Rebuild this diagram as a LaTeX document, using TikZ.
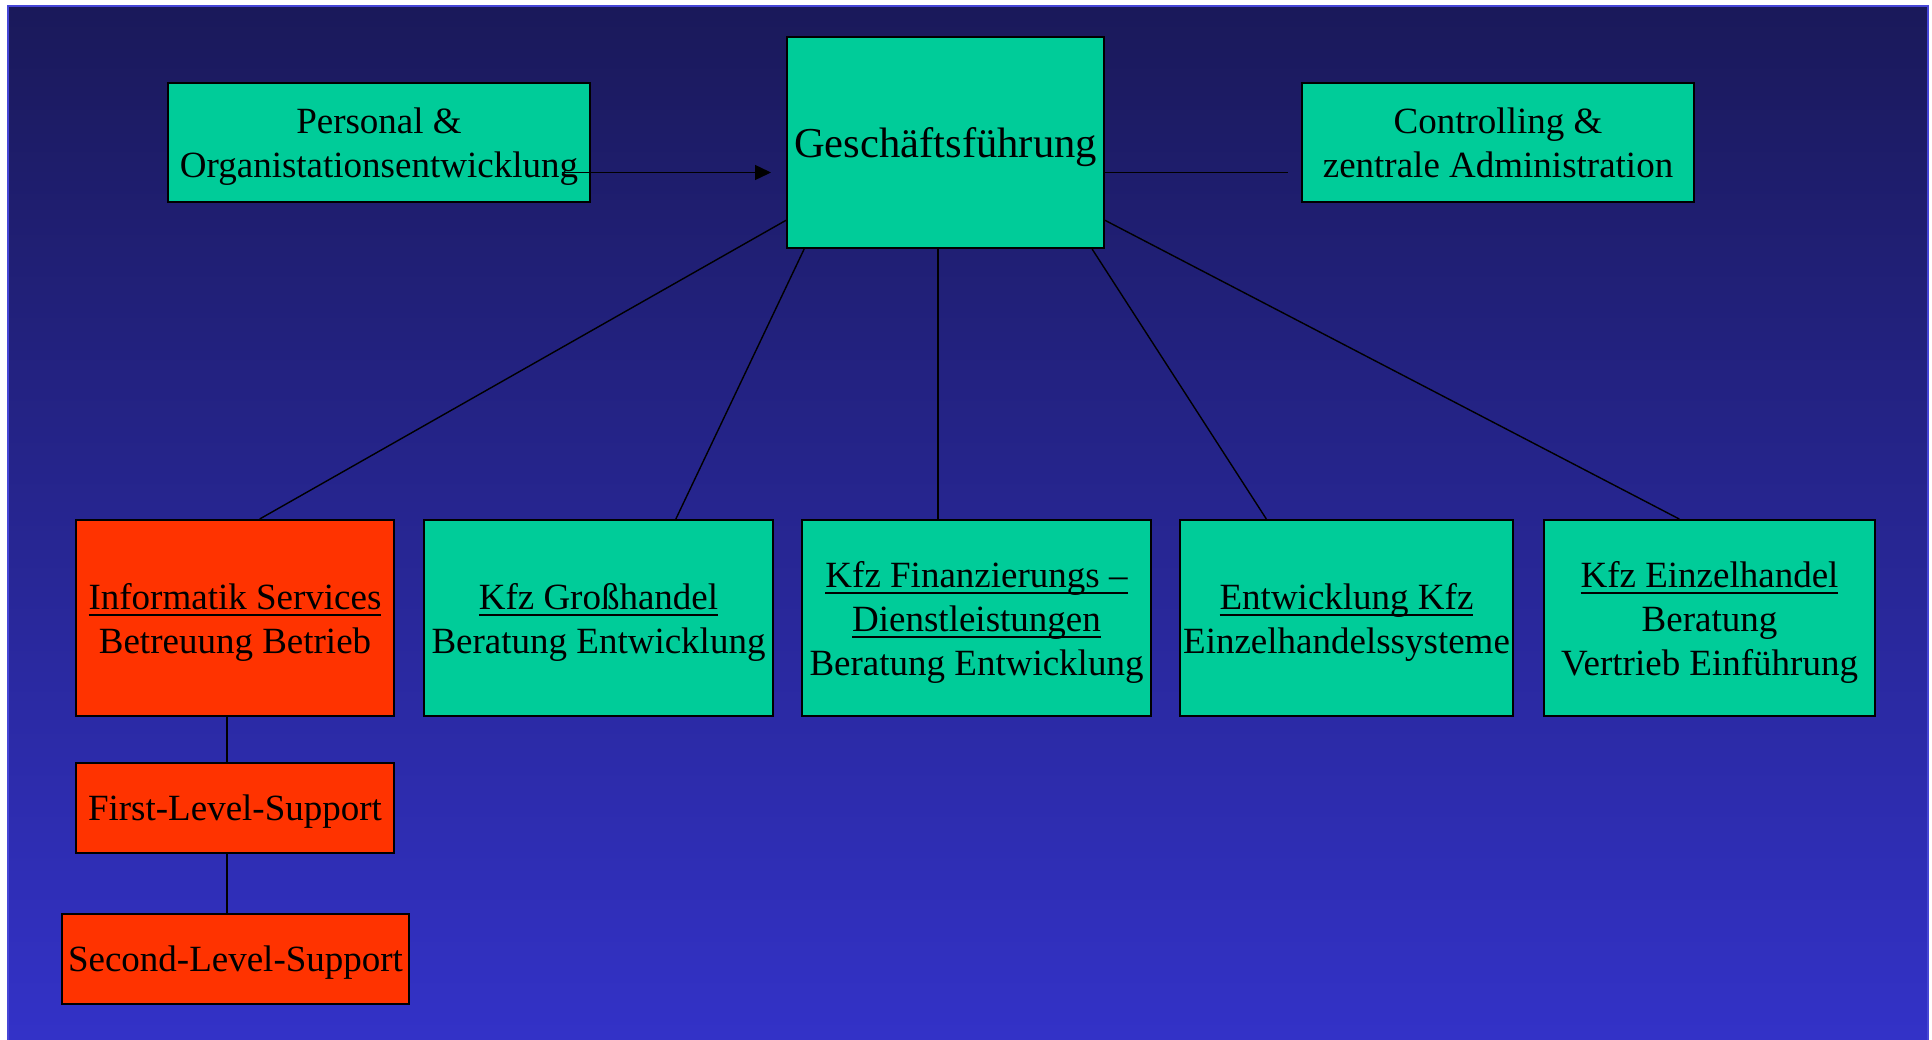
\documentclass[tikz,border=0pt]{standalone}
\usepackage{fontspec}
\setmainfont{Liberation Serif}
\usetikzlibrary{arrows.meta}

\definecolor{bgtop}{RGB}{26,25,90}
\definecolor{bgbottom}{RGB}{51,50,200}
\definecolor{bgline}{RGB}{70,70,215}
\definecolor{unitgreen}{RGB}{0,204,153}
\definecolor{unitred}{RGB}{255,51,0}

\tikzset{every picture/.style={line width=0.7pt}}
\tikzset{
  unit/.style={draw=black, line width=1pt, fill=unitgreen, align=center, inner sep=0pt,
    text depth=0pt, font=\fontsize{18.5}{22}\selectfont},
  itunit/.style={unit, fill=unitred},
  link/.style={draw=black, line width=0.7pt},
  arr/.style={link, -{Triangle[length=8pt,width=7.5pt]}}
}
\newsavebox{\ulbox}
\newcommand{\uh}[1]{\sbox{\ulbox}{#1}\rlap{\rule[-3.4pt]{\wd\ulbox}{0.9pt}}\usebox{\ulbox}}

\begin{document}
\begin{tikzpicture}[x=0.5pt,y=0.5pt,yscale=-1,xscale=1]
	\useasboundingbox (0,0) rectangle (1932,1039);
	
	%Background
	\shade [top color=bgtop, bottom color=bgbottom, draw=bgline, line width=0.8pt] (8,6) rectangle (1928,1045);
	
	%Top row
	\node [unit, minimum width=211pt, minimum height=59.5pt] (pers) at (379,142.5) {Personal \&\\Organistationsentwicklung};
	\node [unit, minimum width=158.5pt, minimum height=105.5pt, font=\fontsize{21.3}{25}\selectfont] (gf) at (945.5,142.5) {Gesch\"aftsf\"uhrung};
	\node [unit, minimum width=196pt, minimum height=59.5pt] (ctrl) at (1498,142.5) {Controlling \&\\zentrale Administration};
	
	%Bottom row
	\node [itunit, minimum width=159pt, minimum height=98pt] (inf) at (235,618) {\uh{Informatik Services}\\Betreuung Betrieb};
	\node [unit, minimum width=174.5pt, minimum height=98pt] (gross) at (598.5,618) {\uh{Kfz Gro\ss handel}\\Beratung Entwicklung};
	\node [unit, minimum width=174.5pt, minimum height=98pt] (fin) at (976.5,618) {\uh{Kfz Finanzierungs --}\\\uh{Dienstleistungen}\\Beratung Entwicklung};
	\node [unit, minimum width=166.5pt, minimum height=98pt] (entw) at (1346.5,618) {\uh{Entwicklung Kfz}\\Einzelhandelssysteme};
	\node [unit, minimum width=165.5pt, minimum height=98pt] (einz) at (1709.5,618) {\uh{Kfz Einzelhandel}\\Beratung\\Vertrieb Einf\"uhrung};
	
	%Support
	\node [itunit, minimum width=159pt, minimum height=45pt] (first) at (235,808) {First-Level-Support};
	\node [itunit, minimum width=173.5pt, minimum height=45pt] (second) at (235.5,959) {Second-Level-Support};
	
	%Connectors
	\draw [arr] ([shift={(-14.5pt,15pt)}]pers.east) -- ([shift={(-7.5pt,15pt)}]gf.west);
	\draw [link] ([yshift=15pt]gf.east) -- ([shift={(-6.5pt,15pt)}]ctrl.west);
	\draw [link] (gf.206.6) -- (inf.76.2);
	\draw [link] (gf.217.8) -- (gross.52.4);
	\draw [link] (gf.266.5) -- (gf.266.5 |- fin.north);
	\draw [link] (gf.324.6) -- (entw.129);
	\draw [link] (gf.334.2) -- (einz.107.8);
	\draw [link] ([xshift=-4pt]inf.south) -- ([xshift=-4pt]first.north);
	\draw [link] ([xshift=-4pt]first.south) -- ([xshift=-4.25pt]second.north);
	
\end{tikzpicture}
\end{document}
